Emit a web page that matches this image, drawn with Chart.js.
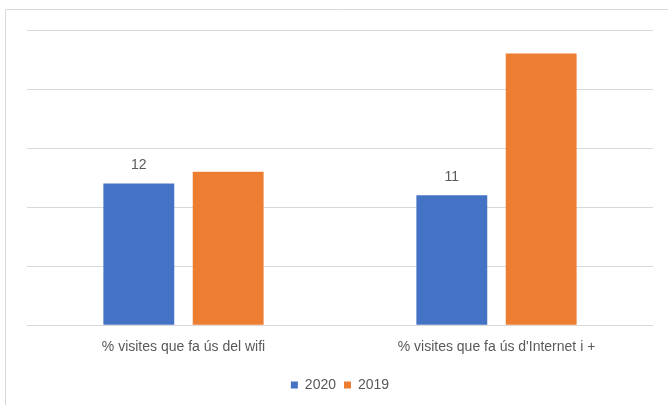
<!DOCTYPE html>
<html>
<head>
<meta charset="utf-8">
<script src="https://cdn.jsdelivr.net/npm/chart.js@4"></script>
<style>
  html, body { margin: 0; padding: 0; background: #fff; }
  #wrap { width: 668px; height: 405px; position: relative; }
</style>
</head>
<body>
<div id="wrap"><canvas id="grafic"></canvas></div>
<script>
// Dades del gràfic
const categories = ['% visites que fa ús del wifi', "% visites que fa ús d'Internet i +"];
const valors2020 = [12, 11];
const valors2019 = [13, 23];
const series = ['2020', '2019'];

const textColor = '#595959';
const fontFamily = '"Liberation Sans", Arial, sans-serif';

// Marc gris (vora superior i esquerra) com a la captura
const marc = {
  id: 'marc',
  beforeDraw(chart) {
    const ctx = chart.ctx;
    ctx.save();
    ctx.strokeStyle = '#d9d9d9';
    ctx.lineWidth = 1;
    ctx.beginPath();
    ctx.moveTo(5.5, 405);
    ctx.lineTo(5.5, 9.5);
    ctx.lineTo(668, 9.5);
    ctx.stroke();
    ctx.restore();
  }
};

// Etiquetes de valor només per a la sèrie 2020
const etiquetes = {
  id: 'etiquetes',
  afterDatasetsDraw(chart) {
    const ctx = chart.ctx;
    const meta = chart.getDatasetMeta(0);
    ctx.save();
    ctx.fillStyle = textColor;
    ctx.font = '14px ' + fontFamily;
    ctx.textAlign = 'center';
    ctx.textBaseline = 'middle';
    meta.data.forEach((bar, i) => {
      ctx.fillText(valors2020[i], bar.x, bar.y - 18);
    });
    ctx.restore();
  }
};

new Chart(document.getElementById('grafic'), {
  type: 'bar',
  data: {
    labels: categories,
    datasets: [
      { label: series[0], data: valors2020, backgroundColor: '#4472c4' },
      { label: series[1], data: valors2019, backgroundColor: '#ed7d31' }
    ]
  },
  options: {
    responsive: true,
    maintainAspectRatio: false,
    animation: false,
    layout: { padding: { top: 30, left: 27, right: 15, bottom: 3 } },
    datasets: {
      bar: { categoryPercentage: 0.571, barPercentage: 0.793 }
    },
    scales: {
      x: {
        grid: { display: false, drawTicks: false },
        border: { display: false },
        ticks: { color: textColor, font: { family: fontFamily, size: 14 }, padding: 14 }
      },
      y: {
        min: 0,
        max: 25,
        ticks: { display: false, stepSize: 5 },
        grid: { color: '#d9d9d9', lineWidth: 1, drawTicks: false },
        border: { display: false },
        afterFit(scale) { scale.width = 0; }
      }
    },
    plugins: {
      legend: {
        position: 'bottom',
        labels: {
          color: textColor,
          font: { family: fontFamily, size: 14 },
          boxWidth: 7,
          boxHeight: 7,
          padding: 8
        }
      },
      tooltip: { enabled: false }
    }
  },
  plugins: [marc, etiquetes]
});
</script>
</body>
</html>
